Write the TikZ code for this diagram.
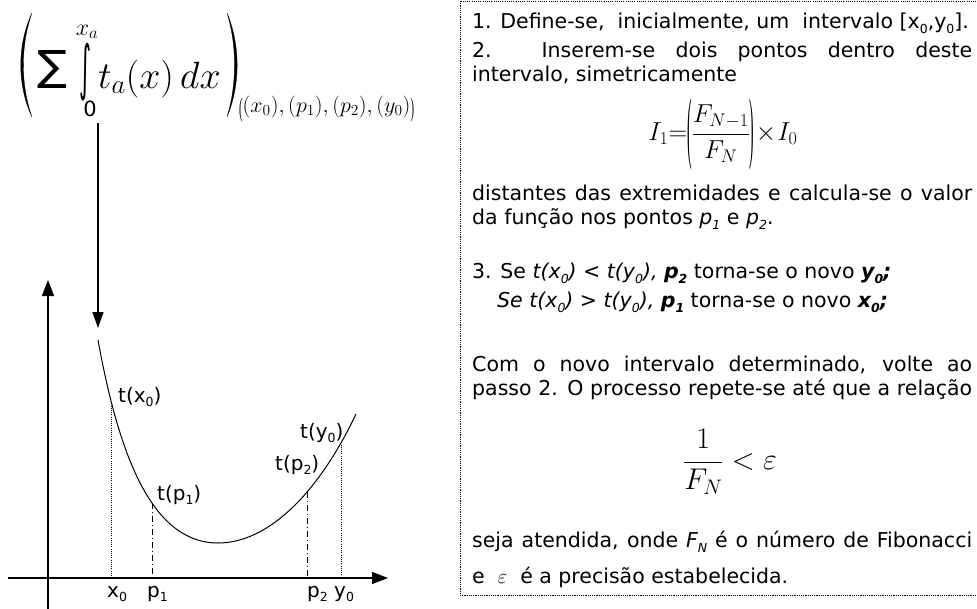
\RequirePackage{fix-cm}
\documentclass[tikz,border=0pt]{standalone}
\usepackage{graphicx}
\usepackage{fontspec}
\setmainfont{DejaVu Sans}
\newfontfamily\parenfont{Liberation Serif}
\usetikzlibrary{arrows.meta}
\newcommand\sbx[1]{\raisebox{-0.45ex}{\fontsize{12.5}{13}\selectfont #1}}
\newcommand\jline[2]{\makebox[#1pt][s]{#2}}
\newcommand\tallp[3]{\resizebox*{#1}{#2}{\parenfont #3}}
\newcommand\vparen[3]{\vcenter{\hbox{\tallp{#1}{#2}{#3}}}}
\begin{document}
\begin{tikzpicture}[x=1pt,y=-1pt,
  txt/.style={inner sep=0pt, anchor=base west, font=\fontsize{20.5}{23}\selectfont},
  lbl/.style={inner sep=0pt, anchor=base west, font=\fontsize{20}{23}\selectfont},
  glyph/.style={inner sep=0pt},
  parenshape/.style={fill=black, draw=black, line width=0.3pt},
  axisline/.style={line width=1.3pt, -{Triangle[length=16pt,width=12pt]}},
  proj/.style={line width=0.7pt, dash pattern=on 1pt off 1.2pt},
  projdd/.style={line width=0.7pt, dash pattern=on 6pt off 3pt on 1pt off 3pt},
  frame/.style={line width=0.8pt, dash pattern=on 1.1pt off 1.1pt},
  ]
\useasboundingbox (0,0) rectangle (977,608);

% ---------- top formula
\path[parenshape] (32,13) .. controls (17,45) and (17,85) .. (32,117)
                          .. controls (20.5,85) and (20.5,45) .. (32,13);
\node[glyph] (sig) at (52,69) {\resizebox*{30pt}{38pt}{∑}};
\node[glyph] (intg) at (85,72) {\resizebox*{12pt}{58pt}{∫}};
\node[glyph, font=\fontsize{24}{24}\selectfont] (ulim) at (87,32) {$x_a$};
\node[glyph, font=\fontsize{21}{21}\selectfont] (llim) at (90,109) {0};
\node[glyph, anchor=base west, font=\fontsize{38}{40}\selectfont] (body) at (98,88) {$t_a(x)\,dx$};
\path[parenshape] (227,13) .. controls (240.5,45) and (240.5,85) .. (227,117)
                           .. controls (237,85) and (237,45) .. (227,13);
\node[glyph, anchor=base west, font=\fontsize{22}{22}\selectfont] (sub) at (239,112)
  {\raisebox{-4pt}{\tallp{3.5pt}{24pt}{(}}$(x_0),(p_1),(p_2),(y_0)$\raisebox{-4pt}{\tallp{3.5pt}{24pt}{)}}};

% ---------- arrow
\coordinate (astart) at (98,123);
\coordinate (aend) at (98,328);
\draw[line width=1.3pt, -{Triangle[length=16pt,width=11pt]}] (astart) -- (aend);

% ---------- axes
\coordinate (ybot) at (48,612);
\coordinate (ytop) at (48,280);
\coordinate (xl) at (8,578);
\coordinate (xr) at (388,578);
\draw[axisline] (ybot) -- (ytop);
\draw[axisline] (xl) -- (xr);

% ---------- curve
\coordinate (c0) at (98,340);
\coordinate (cmin) at (218,543);
\coordinate (cend) at (356,414);
\draw[line width=1pt] (c0) .. controls (118,450) and (150,543) .. (cmin)
    coordinate[pos=0.2] (cx0) coordinate[pos=0.6] (cp1)
  .. controls (270,543) and (320,490) .. (cend)
    coordinate[pos=0.6] (cp2) coordinate[pos=0.87] (cy0);

\draw[proj] (cx0) -- (cx0 |- xl);
\draw[proj] (cy0) -- (cy0 |- xl);
\draw[projdd] (cp1) -- (cp1 |- xl);
\draw[projdd] (cp2) -- (cp2 |- xl);

\node[lbl] (ltx0) at (118,402) {t(x\sbx{0})};
\node[lbl] (ltp1) at (157,500) {t(p\sbx{1})};
\node[lbl] (ltp2) at (275,470) {t(p\sbx{2})};
\node[lbl] (lty0) at (300,438) {t(y\sbx{0})};

\node[lbl] (ax0) at (107,597) {x\sbx{0}};
\node[lbl] (ap1) at (147,597) {p\sbx{1}};
\node[lbl] (ap2) at (307,597) {p\sbx{2}};
\node[lbl] (ay0) at (334,597) {y\sbx{0}};

% ---------- text box
\draw[frame] (460,1) rectangle (980,595);

\node[txt] (t1) at (472,28) {1. Define-se,\ \ inicialmente, um\ \ intervalo [x\sbx{0},y\sbx{0}].};
\node[txt] (t2) at (472,57) {\jline{500}{2. Inserem-se dois pontos dentro deste}};
\node[txt] (t3) at (472,81) {intervalo, simetricamente};
\node[inner sep=0pt, font=\fontsize{26}{30}\selectfont] (f1) at (723,134)
  {$I_1{=}\vparen{4.5pt}{72pt}{(}\displaystyle\frac{F_{N-1}}{F_N}\vparen{4.5pt}{72pt}{)}\!\times\! I_0$};
\node[txt] (t4) at (472,200) {\jline{500}{distantes das extremidades e calcula-se o valor}};
\node[txt] (t5) at (472,224) {da função nos pontos \textit{p\sbx{1}} e \textit{p\sbx{2}}.};
\node[txt] (t6) at (472,278) {3. Se \textit{t(x\sbx{0}) < t(y\sbx{0}),} \textbf{\textit{p\sbx{2}}} torna-se o novo \textbf{\textit{y\sbx{0};}}};
\node[txt] (t7) at (497,307) {\textit{Se t(x\sbx{0}) > t(y\sbx{0}),} \textbf{\textit{p\sbx{1}}} torna-se o novo \textbf{\textit{x\sbx{0};}}};
\node[txt] (t8) at (472,371) {\jline{500}{Com o novo intervalo determinado, volte ao}};
\node[txt] (t9) at (472,395) {\jline{500}{passo 2. O processo repete-se até que a relação}};
\node[inner sep=0pt, font=\fontsize{30}{34}\selectfont] (f2) at (730,462)
  {$\displaystyle\frac{1}{F_N}<\varepsilon$};
\node[txt] (t10) at (472,547) {\jline{500}{seja atendida, onde \textit{F\sbx{N}} é o número de Fibonacci}};
\node[txt] (t11) at (472,583) {e \ $\varepsilon$ \ é a precisão estabelecida.};
\end{tikzpicture}
\end{document}
